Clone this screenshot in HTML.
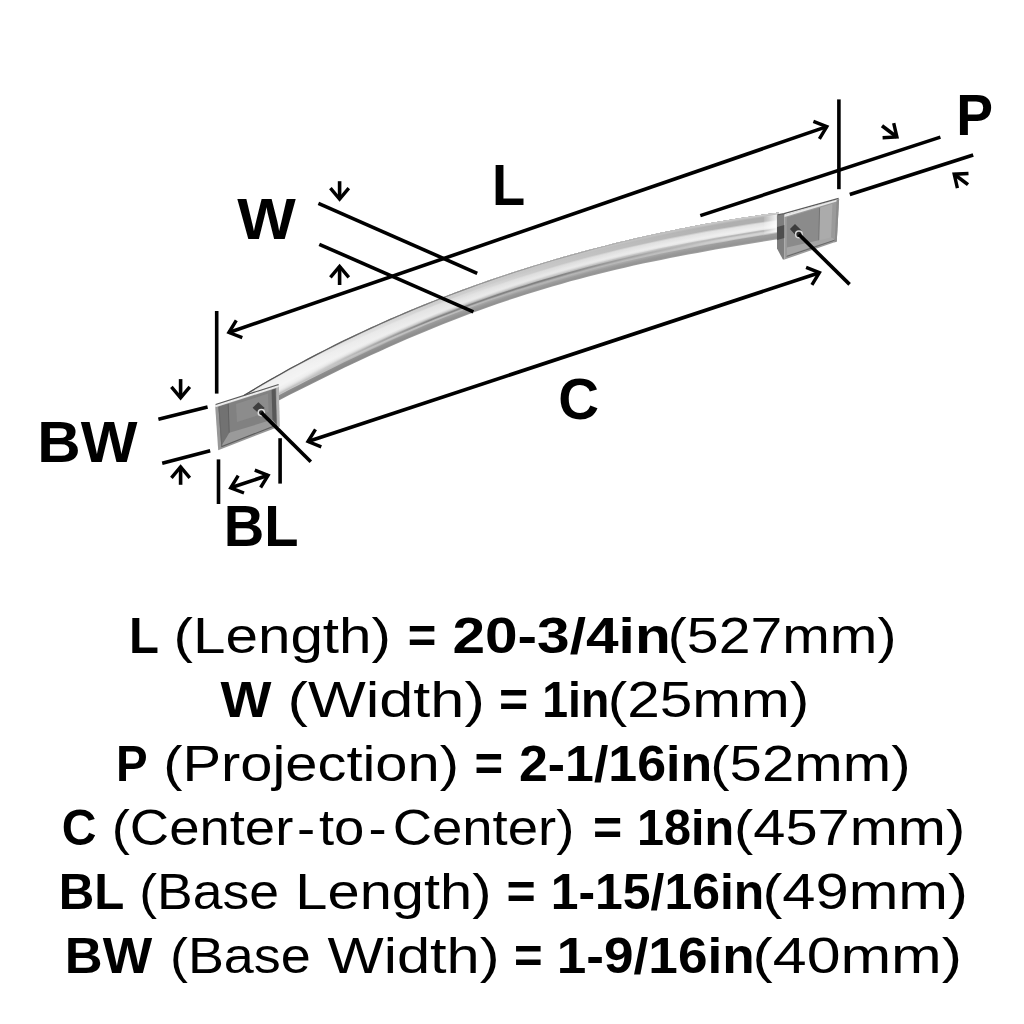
<!DOCTYPE html>
<html><head><meta charset="utf-8"><title>Handle dimensions</title>
<style>html,body{margin:0;padding:0;background:#fff}svg{display:block}text{font-family:"Liberation Sans",sans-serif;fill:#000}</style>
</head><body>
<svg width="1024" height="1024" viewBox="0 0 1024 1024">
<defs>
<linearGradient id="topline" gradientUnits="userSpaceOnUse" x1="244" y1="0" x2="560" y2="0"><stop offset="0" stop-color="#4a4a4a"/><stop offset="0.5" stop-color="#6a6a6a" stop-opacity="0.9"/><stop offset="1" stop-color="#999" stop-opacity="0"/></linearGradient>
<linearGradient id="glare" gradientUnits="userSpaceOnUse" x1="762" y1="0" x2="777" y2="0"><stop offset="0" stop-color="#fff" stop-opacity="0"/><stop offset="1" stop-color="#fff" stop-opacity="0.85"/></linearGradient>
<linearGradient id="g29" gradientUnits="userSpaceOnUse" x1="244" y1="0" x2="779" y2="0"><stop offset="0.105" stop-color="rgb(143,143,143)"/><stop offset="0.348" stop-color="rgb(153,153,153)"/><stop offset="0.572" stop-color="rgb(154,154,154)"/><stop offset="0.908" stop-color="rgb(160,160,160)"/></linearGradient>
<linearGradient id="g28" gradientUnits="userSpaceOnUse" x1="244" y1="0" x2="779" y2="0"><stop offset="0.105" stop-color="rgb(133,133,133)"/><stop offset="0.348" stop-color="rgb(142,142,142)"/><stop offset="0.572" stop-color="rgb(147,147,147)"/><stop offset="0.908" stop-color="rgb(149,149,149)"/></linearGradient>
<linearGradient id="g27" gradientUnits="userSpaceOnUse" x1="244" y1="0" x2="779" y2="0"><stop offset="0.105" stop-color="rgb(134,134,134)"/><stop offset="0.348" stop-color="rgb(145,145,145)"/><stop offset="0.572" stop-color="rgb(150,150,150)"/><stop offset="0.908" stop-color="rgb(150,150,150)"/></linearGradient>
<linearGradient id="g26" gradientUnits="userSpaceOnUse" x1="244" y1="0" x2="779" y2="0"><stop offset="0.105" stop-color="rgb(136,136,136)"/><stop offset="0.348" stop-color="rgb(147,147,147)"/><stop offset="0.572" stop-color="rgb(154,154,154)"/><stop offset="0.908" stop-color="rgb(152,152,152)"/></linearGradient>
<linearGradient id="g25" gradientUnits="userSpaceOnUse" x1="244" y1="0" x2="779" y2="0"><stop offset="0.105" stop-color="rgb(138,138,138)"/><stop offset="0.348" stop-color="rgb(150,150,150)"/><stop offset="0.572" stop-color="rgb(157,157,157)"/><stop offset="0.908" stop-color="rgb(154,154,154)"/></linearGradient>
<linearGradient id="g24" gradientUnits="userSpaceOnUse" x1="244" y1="0" x2="779" y2="0"><stop offset="0.105" stop-color="rgb(140,140,140)"/><stop offset="0.348" stop-color="rgb(153,153,153)"/><stop offset="0.572" stop-color="rgb(170,170,170)"/><stop offset="0.908" stop-color="rgb(156,156,156)"/></linearGradient>
<linearGradient id="g23" gradientUnits="userSpaceOnUse" x1="244" y1="0" x2="779" y2="0"><stop offset="0.105" stop-color="rgb(200,200,200)"/><stop offset="0.348" stop-color="rgb(156,156,156)"/><stop offset="0.572" stop-color="rgb(179,179,179)"/><stop offset="0.908" stop-color="rgb(158,158,158)"/></linearGradient>
<linearGradient id="g22" gradientUnits="userSpaceOnUse" x1="244" y1="0" x2="779" y2="0"><stop offset="0.105" stop-color="rgb(192,192,192)"/><stop offset="0.348" stop-color="rgb(190,190,190)"/><stop offset="0.572" stop-color="rgb(181,181,181)"/><stop offset="0.908" stop-color="rgb(197,197,197)"/></linearGradient>
<linearGradient id="g21" gradientUnits="userSpaceOnUse" x1="244" y1="0" x2="779" y2="0"><stop offset="0.105" stop-color="rgb(200,200,200)"/><stop offset="0.348" stop-color="rgb(191,191,191)"/><stop offset="0.572" stop-color="rgb(158,158,158)"/><stop offset="0.908" stop-color="rgb(211,211,211)"/></linearGradient>
<linearGradient id="g20" gradientUnits="userSpaceOnUse" x1="244" y1="0" x2="779" y2="0"><stop offset="0.105" stop-color="rgb(216,216,216)"/><stop offset="0.348" stop-color="rgb(140,140,140)"/><stop offset="0.572" stop-color="rgb(128,128,128)"/><stop offset="0.908" stop-color="rgb(213,213,213)"/></linearGradient>
<linearGradient id="g19" gradientUnits="userSpaceOnUse" x1="244" y1="0" x2="779" y2="0"><stop offset="0.105" stop-color="rgb(225,225,225)"/><stop offset="0.348" stop-color="rgb(130,130,130)"/><stop offset="0.572" stop-color="rgb(128,128,128)"/><stop offset="0.908" stop-color="rgb(203,203,203)"/></linearGradient>
<linearGradient id="g18" gradientUnits="userSpaceOnUse" x1="244" y1="0" x2="779" y2="0"><stop offset="0.105" stop-color="rgb(232,232,232)"/><stop offset="0.348" stop-color="rgb(167,167,167)"/><stop offset="0.572" stop-color="rgb(191,191,191)"/><stop offset="0.908" stop-color="rgb(180,180,180)"/></linearGradient>
<linearGradient id="g17" gradientUnits="userSpaceOnUse" x1="244" y1="0" x2="779" y2="0"><stop offset="0.105" stop-color="rgb(237,237,237)"/><stop offset="0.348" stop-color="rgb(198,198,198)"/><stop offset="0.572" stop-color="rgb(205,205,205)"/><stop offset="0.908" stop-color="rgb(191,191,191)"/></linearGradient>
<linearGradient id="g16" gradientUnits="userSpaceOnUse" x1="244" y1="0" x2="779" y2="0"><stop offset="0.105" stop-color="rgb(239,239,239)"/><stop offset="0.348" stop-color="rgb(215,215,215)"/><stop offset="0.572" stop-color="rgb(217,217,217)"/><stop offset="0.908" stop-color="rgb(230,230,230)"/></linearGradient>
<linearGradient id="g15" gradientUnits="userSpaceOnUse" x1="244" y1="0" x2="779" y2="0"><stop offset="0.105" stop-color="rgb(240,240,240)"/><stop offset="0.348" stop-color="rgb(229,229,229)"/><stop offset="0.572" stop-color="rgb(228,228,228)"/><stop offset="0.908" stop-color="rgb(237,237,237)"/></linearGradient>
<linearGradient id="g14" gradientUnits="userSpaceOnUse" x1="244" y1="0" x2="779" y2="0"><stop offset="0.105" stop-color="rgb(242,242,242)"/><stop offset="0.348" stop-color="rgb(235,235,235)"/><stop offset="0.572" stop-color="rgb(232,232,232)"/><stop offset="0.908" stop-color="rgb(239,239,239)"/></linearGradient>
<linearGradient id="g13" gradientUnits="userSpaceOnUse" x1="244" y1="0" x2="779" y2="0"><stop offset="0.105" stop-color="rgb(244,244,244)"/><stop offset="0.348" stop-color="rgb(234,234,234)"/><stop offset="0.572" stop-color="rgb(230,230,230)"/><stop offset="0.908" stop-color="rgb(236,236,236)"/></linearGradient>
<linearGradient id="g12" gradientUnits="userSpaceOnUse" x1="244" y1="0" x2="779" y2="0"><stop offset="0.105" stop-color="rgb(244,244,244)"/><stop offset="0.348" stop-color="rgb(233,233,233)"/><stop offset="0.572" stop-color="rgb(228,228,228)"/><stop offset="0.908" stop-color="rgb(234,234,234)"/></linearGradient>
<linearGradient id="g11" gradientUnits="userSpaceOnUse" x1="244" y1="0" x2="779" y2="0"><stop offset="0.105" stop-color="rgb(243,243,243)"/><stop offset="0.348" stop-color="rgb(232,232,232)"/><stop offset="0.572" stop-color="rgb(225,225,225)"/><stop offset="0.908" stop-color="rgb(231,231,231)"/></linearGradient>
<linearGradient id="g10" gradientUnits="userSpaceOnUse" x1="244" y1="0" x2="779" y2="0"><stop offset="0.105" stop-color="rgb(243,243,243)"/><stop offset="0.348" stop-color="rgb(231,231,231)"/><stop offset="0.572" stop-color="rgb(223,223,223)"/><stop offset="0.908" stop-color="rgb(229,229,229)"/></linearGradient>
<linearGradient id="g9" gradientUnits="userSpaceOnUse" x1="244" y1="0" x2="779" y2="0"><stop offset="0.105" stop-color="rgb(243,243,243)"/><stop offset="0.348" stop-color="rgb(230,230,230)"/><stop offset="0.572" stop-color="rgb(221,221,221)"/><stop offset="0.908" stop-color="rgb(226,226,226)"/></linearGradient>
<linearGradient id="g8" gradientUnits="userSpaceOnUse" x1="244" y1="0" x2="779" y2="0"><stop offset="0.105" stop-color="rgb(242,242,242)"/><stop offset="0.348" stop-color="rgb(229,229,229)"/><stop offset="0.572" stop-color="rgb(213,213,213)"/><stop offset="0.908" stop-color="rgb(205,205,205)"/></linearGradient>
<linearGradient id="g7" gradientUnits="userSpaceOnUse" x1="244" y1="0" x2="779" y2="0"><stop offset="0.105" stop-color="rgb(242,242,242)"/><stop offset="0.348" stop-color="rgb(228,228,228)"/><stop offset="0.572" stop-color="rgb(200,200,200)"/><stop offset="0.908" stop-color="rgb(176,176,176)"/></linearGradient>
<linearGradient id="g6" gradientUnits="userSpaceOnUse" x1="244" y1="0" x2="779" y2="0"><stop offset="0.105" stop-color="rgb(242,242,242)"/><stop offset="0.348" stop-color="rgb(227,227,227)"/><stop offset="0.572" stop-color="rgb(199,199,199)"/><stop offset="0.908" stop-color="rgb(175,175,175)"/></linearGradient>
<linearGradient id="g5" gradientUnits="userSpaceOnUse" x1="244" y1="0" x2="779" y2="0"><stop offset="0.105" stop-color="rgb(241,241,241)"/><stop offset="0.348" stop-color="rgb(221,221,221)"/><stop offset="0.572" stop-color="rgb(199,199,199)"/><stop offset="0.908" stop-color="rgb(175,175,175)"/></linearGradient>
<linearGradient id="g4" gradientUnits="userSpaceOnUse" x1="244" y1="0" x2="779" y2="0"><stop offset="0.105" stop-color="rgb(241,241,241)"/><stop offset="0.348" stop-color="rgb(210,210,210)"/><stop offset="0.572" stop-color="rgb(198,198,198)"/><stop offset="0.908" stop-color="rgb(175,175,175)"/></linearGradient>
<linearGradient id="g3" gradientUnits="userSpaceOnUse" x1="244" y1="0" x2="779" y2="0"><stop offset="0.105" stop-color="rgb(241,241,241)"/><stop offset="0.348" stop-color="rgb(208,208,208)"/><stop offset="0.572" stop-color="rgb(197,197,197)"/><stop offset="0.908" stop-color="rgb(174,174,174)"/></linearGradient>
<linearGradient id="g2" gradientUnits="userSpaceOnUse" x1="244" y1="0" x2="779" y2="0"><stop offset="0.105" stop-color="rgb(240,240,240)"/><stop offset="0.348" stop-color="rgb(207,207,207)"/><stop offset="0.572" stop-color="rgb(197,197,197)"/><stop offset="0.908" stop-color="rgb(181,181,181)"/></linearGradient>
<linearGradient id="g1" gradientUnits="userSpaceOnUse" x1="244" y1="0" x2="779" y2="0"><stop offset="0.105" stop-color="rgb(218,218,218)"/><stop offset="0.348" stop-color="rgb(205,205,205)"/><stop offset="0.572" stop-color="rgb(196,196,196)"/><stop offset="0.908" stop-color="rgb(194,194,194)"/></linearGradient>
<linearGradient id="g0" gradientUnits="userSpaceOnUse" x1="244" y1="0" x2="779" y2="0"><stop offset="0.105" stop-color="rgb(145,145,145)"/><stop offset="0.348" stop-color="rgb(152,152,152)"/><stop offset="0.572" stop-color="rgb(154,154,154)"/><stop offset="0.908" stop-color="rgb(208,208,208)"/></linearGradient>
</defs>
<rect width="1024" height="1024" fill="#fff"/>
<g id="bar">
<polygon points="244.0,395.1 253.1,389.6 262.1,384.3 271.2,379.0 280.3,373.9 289.3,368.8 298.4,363.9 307.5,359.1 316.5,354.3 325.6,349.7 334.7,345.1 343.7,340.6 352.8,336.3 361.9,332.0 370.9,327.8 380.0,323.7 389.1,319.6 398.2,315.7 407.2,311.8 416.3,308.0 425.4,304.3 434.4,300.7 443.5,297.2 452.6,293.7 461.6,290.3 470.7,287.0 479.8,283.7 488.8,280.6 497.9,277.5 507.0,274.4 516.0,271.4 525.1,268.6 534.2,265.7 543.2,263.0 552.3,260.3 561.4,257.6 570.4,255.0 579.5,252.5 588.6,250.1 597.6,247.7 606.7,245.4 615.8,243.1 624.8,240.9 633.9,238.8 643.0,236.7 652.1,234.7 661.1,232.8 670.2,230.9 679.3,229.0 688.3,227.2 697.4,225.5 706.5,223.8 715.5,222.2 724.6,220.7 733.7,219.2 742.7,217.7 751.8,216.4 760.9,215.0 769.9,213.8 779.0,212.6 779.0,238.9 769.9,240.4 760.9,241.9 751.8,243.4 742.7,244.9 733.7,246.5 724.6,248.0 715.5,249.6 706.5,251.2 697.4,252.9 688.3,254.6 679.3,256.3 670.2,258.0 661.1,259.9 652.1,261.7 643.0,263.6 633.9,265.6 624.8,267.7 615.8,269.8 606.7,271.9 597.6,274.2 588.6,276.5 579.5,278.9 570.4,281.3 561.4,283.9 552.3,286.5 543.2,289.2 534.2,291.9 525.1,294.8 516.0,297.7 507.0,300.7 497.9,303.8 488.8,307.0 479.8,310.2 470.7,313.6 461.6,317.0 452.6,320.5 443.5,324.1 434.4,327.7 425.4,331.4 416.3,335.2 407.2,339.1 398.2,343.1 389.1,347.1 380.0,351.2 370.9,355.3 361.9,359.5 352.8,363.8 343.7,368.1 334.7,372.5 325.6,376.9 316.5,381.4 307.5,385.9 298.4,390.5 289.3,395.1 280.3,399.7 271.2,404.3 262.1,409.0 253.1,413.7 244.0,418.4" fill="url(#g29)"/>
<polygon points="244.0,395.1 253.1,389.6 262.1,384.3 271.2,379.0 280.3,373.9 289.3,368.8 298.4,363.9 307.5,359.1 316.5,354.3 325.6,349.7 334.7,345.1 343.7,340.6 352.8,336.3 361.9,332.0 370.9,327.8 380.0,323.7 389.1,319.6 398.2,315.7 407.2,311.8 416.3,308.0 425.4,304.3 434.4,300.7 443.5,297.2 452.6,293.7 461.6,290.3 470.7,287.0 479.8,283.7 488.8,280.6 497.9,277.5 507.0,274.4 516.0,271.4 525.1,268.6 534.2,265.7 543.2,263.0 552.3,260.3 561.4,257.6 570.4,255.0 579.5,252.5 588.6,250.1 597.6,247.7 606.7,245.4 615.8,243.1 624.8,240.9 633.9,238.8 643.0,236.7 652.1,234.7 661.1,232.8 670.2,230.9 679.3,229.0 688.3,227.2 697.4,225.5 706.5,223.8 715.5,222.2 724.6,220.7 733.7,219.2 742.7,217.7 751.8,216.4 760.9,215.0 769.9,213.8 779.0,212.6 779.0,238.0 769.9,239.5 760.9,241.0 751.8,242.5 742.7,244.0 733.7,245.6 724.6,247.1 715.5,248.7 706.5,250.3 697.4,252.0 688.3,253.6 679.3,255.4 670.2,257.1 661.1,258.9 652.1,260.8 643.0,262.7 633.9,264.7 624.8,266.8 615.8,268.9 606.7,271.1 597.6,273.3 588.6,275.6 579.5,278.0 570.4,280.5 561.4,283.0 552.3,285.6 543.2,288.3 534.2,291.1 525.1,293.9 516.0,296.8 507.0,299.8 497.9,302.9 488.8,306.1 479.8,309.4 470.7,312.7 461.6,316.1 452.6,319.6 443.5,323.2 434.4,326.8 425.4,330.5 416.3,334.3 407.2,338.2 398.2,342.1 389.1,346.2 380.0,350.2 370.9,354.4 361.9,358.6 352.8,362.9 343.7,367.2 334.7,371.6 325.6,376.0 316.5,380.5 307.5,385.0 298.4,389.6 289.3,394.2 280.3,398.8 271.2,403.5 262.1,408.2 253.1,412.9 244.0,417.6" fill="url(#g28)"/>
<polygon points="244.0,395.1 253.1,389.6 262.1,384.3 271.2,379.0 280.3,373.9 289.3,368.8 298.4,363.9 307.5,359.1 316.5,354.3 325.6,349.7 334.7,345.1 343.7,340.6 352.8,336.3 361.9,332.0 370.9,327.8 380.0,323.7 389.1,319.6 398.2,315.7 407.2,311.8 416.3,308.0 425.4,304.3 434.4,300.7 443.5,297.2 452.6,293.7 461.6,290.3 470.7,287.0 479.8,283.7 488.8,280.6 497.9,277.5 507.0,274.4 516.0,271.4 525.1,268.6 534.2,265.7 543.2,263.0 552.3,260.3 561.4,257.6 570.4,255.0 579.5,252.5 588.6,250.1 597.6,247.7 606.7,245.4 615.8,243.1 624.8,240.9 633.9,238.8 643.0,236.7 652.1,234.7 661.1,232.8 670.2,230.9 679.3,229.0 688.3,227.2 697.4,225.5 706.5,223.8 715.5,222.2 724.6,220.7 733.7,219.2 742.7,217.7 751.8,216.4 760.9,215.0 769.9,213.8 779.0,212.6 779.0,237.1 769.9,238.6 760.9,240.1 751.8,241.6 742.7,243.1 733.7,244.7 724.6,246.2 715.5,247.8 706.5,249.4 697.4,251.0 688.3,252.7 679.3,254.5 670.2,256.2 661.1,258.0 652.1,259.9 643.0,261.8 633.9,263.8 624.8,265.9 615.8,268.0 606.7,270.2 597.6,272.4 588.6,274.7 579.5,277.1 570.4,279.6 561.4,282.1 552.3,284.7 543.2,287.4 534.2,290.2 525.1,293.0 516.0,296.0 507.0,299.0 497.9,302.1 488.8,305.2 479.8,308.5 470.7,311.8 461.6,315.2 452.6,318.7 443.5,322.3 434.4,325.9 425.4,329.6 416.3,333.4 407.2,337.3 398.2,341.2 389.1,345.2 380.0,349.3 370.9,353.5 361.9,357.7 352.8,361.9 343.7,366.3 334.7,370.7 325.6,375.1 316.5,379.6 307.5,384.1 298.4,388.7 289.3,393.3 280.3,398.0 271.2,402.6 262.1,407.3 253.1,412.1 244.0,416.8" fill="url(#g27)"/>
<polygon points="244.0,395.1 253.1,389.6 262.1,384.3 271.2,379.0 280.3,373.9 289.3,368.8 298.4,363.9 307.5,359.1 316.5,354.3 325.6,349.7 334.7,345.1 343.7,340.6 352.8,336.3 361.9,332.0 370.9,327.8 380.0,323.7 389.1,319.6 398.2,315.7 407.2,311.8 416.3,308.0 425.4,304.3 434.4,300.7 443.5,297.2 452.6,293.7 461.6,290.3 470.7,287.0 479.8,283.7 488.8,280.6 497.9,277.5 507.0,274.4 516.0,271.4 525.1,268.6 534.2,265.7 543.2,263.0 552.3,260.3 561.4,257.6 570.4,255.0 579.5,252.5 588.6,250.1 597.6,247.7 606.7,245.4 615.8,243.1 624.8,240.9 633.9,238.8 643.0,236.7 652.1,234.7 661.1,232.8 670.2,230.9 679.3,229.0 688.3,227.2 697.4,225.5 706.5,223.8 715.5,222.2 724.6,220.7 733.7,219.2 742.7,217.7 751.8,216.4 760.9,215.0 769.9,213.8 779.0,212.6 779.0,236.3 769.9,237.7 760.9,239.2 751.8,240.7 742.7,242.2 733.7,243.8 724.6,245.3 715.5,246.9 706.5,248.5 697.4,250.1 688.3,251.8 679.3,253.5 670.2,255.3 661.1,257.1 652.1,259.0 643.0,260.9 633.9,262.9 624.8,265.0 615.8,267.1 606.7,269.3 597.6,271.5 588.6,273.8 579.5,276.2 570.4,278.7 561.4,281.2 552.3,283.9 543.2,286.5 534.2,289.3 525.1,292.2 516.0,295.1 507.0,298.1 497.9,301.2 488.8,304.3 479.8,307.6 470.7,310.9 461.6,314.3 452.6,317.8 443.5,321.4 434.4,325.0 425.4,328.7 416.3,332.5 407.2,336.4 398.2,340.3 389.1,344.3 380.0,348.4 370.9,352.6 361.9,356.8 352.8,361.0 343.7,365.4 334.7,369.7 325.6,374.2 316.5,378.7 307.5,383.2 298.4,387.8 289.3,392.4 280.3,397.1 271.2,401.8 262.1,406.5 253.1,411.3 244.0,416.0" fill="url(#g26)"/>
<polygon points="244.0,395.1 253.1,389.6 262.1,384.3 271.2,379.0 280.3,373.9 289.3,368.8 298.4,363.9 307.5,359.1 316.5,354.3 325.6,349.7 334.7,345.1 343.7,340.6 352.8,336.3 361.9,332.0 370.9,327.8 380.0,323.7 389.1,319.6 398.2,315.7 407.2,311.8 416.3,308.0 425.4,304.3 434.4,300.7 443.5,297.2 452.6,293.7 461.6,290.3 470.7,287.0 479.8,283.7 488.8,280.6 497.9,277.5 507.0,274.4 516.0,271.4 525.1,268.6 534.2,265.7 543.2,263.0 552.3,260.3 561.4,257.6 570.4,255.0 579.5,252.5 588.6,250.1 597.6,247.7 606.7,245.4 615.8,243.1 624.8,240.9 633.9,238.8 643.0,236.7 652.1,234.7 661.1,232.8 670.2,230.9 679.3,229.0 688.3,227.2 697.4,225.5 706.5,223.8 715.5,222.2 724.6,220.7 733.7,219.2 742.7,217.7 751.8,216.4 760.9,215.0 769.9,213.8 779.0,212.6 779.0,235.4 769.9,236.9 760.9,238.3 751.8,239.8 742.7,241.3 733.7,242.8 724.6,244.4 715.5,246.0 706.5,247.6 697.4,249.2 688.3,250.9 679.3,252.6 670.2,254.4 661.1,256.2 652.1,258.1 643.0,260.1 633.9,262.0 624.8,264.1 615.8,266.2 606.7,268.4 597.6,270.6 588.6,273.0 579.5,275.4 570.4,277.8 561.4,280.4 552.3,283.0 543.2,285.7 534.2,288.4 525.1,291.3 516.0,294.2 507.0,297.2 497.9,300.3 488.8,303.5 479.8,306.7 470.7,310.0 461.6,313.4 452.6,316.9 443.5,320.5 434.4,324.1 425.4,327.8 416.3,331.6 407.2,335.5 398.2,339.4 389.1,343.4 380.0,347.5 370.9,351.6 361.9,355.8 352.8,360.1 343.7,364.4 334.7,368.8 325.6,373.3 316.5,377.8 307.5,382.3 298.4,386.9 289.3,391.6 280.3,396.2 271.2,401.0 262.1,405.7 253.1,410.5 244.0,415.3" fill="url(#g25)"/>
<polygon points="244.0,395.1 253.1,389.6 262.1,384.3 271.2,379.0 280.3,373.9 289.3,368.8 298.4,363.9 307.5,359.1 316.5,354.3 325.6,349.7 334.7,345.1 343.7,340.6 352.8,336.3 361.9,332.0 370.9,327.8 380.0,323.7 389.1,319.6 398.2,315.7 407.2,311.8 416.3,308.0 425.4,304.3 434.4,300.7 443.5,297.2 452.6,293.7 461.6,290.3 470.7,287.0 479.8,283.7 488.8,280.6 497.9,277.5 507.0,274.4 516.0,271.4 525.1,268.6 534.2,265.7 543.2,263.0 552.3,260.3 561.4,257.6 570.4,255.0 579.5,252.5 588.6,250.1 597.6,247.7 606.7,245.4 615.8,243.1 624.8,240.9 633.9,238.8 643.0,236.7 652.1,234.7 661.1,232.8 670.2,230.9 679.3,229.0 688.3,227.2 697.4,225.5 706.5,223.8 715.5,222.2 724.6,220.7 733.7,219.2 742.7,217.7 751.8,216.4 760.9,215.0 769.9,213.8 779.0,212.6 779.0,234.5 769.9,236.0 760.9,237.4 751.8,238.9 742.7,240.4 733.7,241.9 724.6,243.5 715.5,245.1 706.5,246.7 697.4,248.3 688.3,250.0 679.3,251.7 670.2,253.5 661.1,255.3 652.1,257.2 643.0,259.2 633.9,261.2 624.8,263.2 615.8,265.3 606.7,267.5 597.6,269.8 588.6,272.1 579.5,274.5 570.4,276.9 561.4,279.5 552.3,282.1 543.2,284.8 534.2,287.6 525.1,290.4 516.0,293.3 507.0,296.3 497.9,299.4 488.8,302.6 479.8,305.8 470.7,309.1 461.6,312.5 452.6,316.0 443.5,319.6 434.4,323.2 425.4,326.9 416.3,330.7 407.2,334.6 398.2,338.5 389.1,342.5 380.0,346.6 370.9,350.7 361.9,354.9 352.8,359.2 343.7,363.5 334.7,367.9 325.6,372.4 316.5,376.9 307.5,381.4 298.4,386.0 289.3,390.7 280.3,395.4 271.2,400.1 262.1,404.9 253.1,409.7 244.0,414.5" fill="url(#g24)"/>
<polygon points="244.0,395.1 253.1,389.6 262.1,384.3 271.2,379.0 280.3,373.9 289.3,368.8 298.4,363.9 307.5,359.1 316.5,354.3 325.6,349.7 334.7,345.1 343.7,340.6 352.8,336.3 361.9,332.0 370.9,327.8 380.0,323.7 389.1,319.6 398.2,315.7 407.2,311.8 416.3,308.0 425.4,304.3 434.4,300.7 443.5,297.2 452.6,293.7 461.6,290.3 470.7,287.0 479.8,283.7 488.8,280.6 497.9,277.5 507.0,274.4 516.0,271.4 525.1,268.6 534.2,265.7 543.2,263.0 552.3,260.3 561.4,257.6 570.4,255.0 579.5,252.5 588.6,250.1 597.6,247.7 606.7,245.4 615.8,243.1 624.8,240.9 633.9,238.8 643.0,236.7 652.1,234.7 661.1,232.8 670.2,230.9 679.3,229.0 688.3,227.2 697.4,225.5 706.5,223.8 715.5,222.2 724.6,220.7 733.7,219.2 742.7,217.7 751.8,216.4 760.9,215.0 769.9,213.8 779.0,212.6 779.0,233.6 769.9,235.1 760.9,236.5 751.8,238.0 742.7,239.5 733.7,241.0 724.6,242.6 715.5,244.1 706.5,245.8 697.4,247.4 688.3,249.1 679.3,250.8 670.2,252.6 661.1,254.4 652.1,256.3 643.0,258.3 633.9,260.3 624.8,262.3 615.8,264.4 606.7,266.6 597.6,268.9 588.6,271.2 579.5,273.6 570.4,276.1 561.4,278.6 552.3,281.2 543.2,283.9 534.2,286.7 525.1,289.5 516.0,292.5 507.0,295.5 497.9,298.5 488.8,301.7 479.8,304.9 470.7,308.3 461.6,311.6 452.6,315.1 443.5,318.7 434.4,322.3 425.4,326.0 416.3,329.8 407.2,333.7 398.2,337.6 389.1,341.6 380.0,345.7 370.9,349.8 361.9,354.0 352.8,358.3 343.7,362.6 334.7,367.0 325.6,371.5 316.5,376.0 307.5,380.5 298.4,385.2 289.3,389.8 280.3,394.5 271.2,399.3 262.1,404.0 253.1,408.9 244.0,413.7" fill="url(#g23)"/>
<polygon points="244.0,395.1 253.1,389.6 262.1,384.3 271.2,379.0 280.3,373.9 289.3,368.8 298.4,363.9 307.5,359.1 316.5,354.3 325.6,349.7 334.7,345.1 343.7,340.6 352.8,336.3 361.9,332.0 370.9,327.8 380.0,323.7 389.1,319.6 398.2,315.7 407.2,311.8 416.3,308.0 425.4,304.3 434.4,300.7 443.5,297.2 452.6,293.7 461.6,290.3 470.7,287.0 479.8,283.7 488.8,280.6 497.9,277.5 507.0,274.4 516.0,271.4 525.1,268.6 534.2,265.7 543.2,263.0 552.3,260.3 561.4,257.6 570.4,255.0 579.5,252.5 588.6,250.1 597.6,247.7 606.7,245.4 615.8,243.1 624.8,240.9 633.9,238.8 643.0,236.7 652.1,234.7 661.1,232.8 670.2,230.9 679.3,229.0 688.3,227.2 697.4,225.5 706.5,223.8 715.5,222.2 724.6,220.7 733.7,219.2 742.7,217.7 751.8,216.4 760.9,215.0 769.9,213.8 779.0,212.6 779.0,232.8 769.9,234.2 760.9,235.6 751.8,237.1 742.7,238.6 733.7,240.1 724.6,241.7 715.5,243.2 706.5,244.8 697.4,246.5 688.3,248.2 679.3,249.9 670.2,251.7 661.1,253.5 652.1,255.4 643.0,257.4 633.9,259.4 624.8,261.4 615.8,263.6 606.7,265.7 597.6,268.0 588.6,270.3 579.5,272.7 570.4,275.2 561.4,277.7 552.3,280.4 543.2,283.0 534.2,285.8 525.1,288.7 516.0,291.6 507.0,294.6 497.9,297.7 488.8,300.8 479.8,304.1 470.7,307.4 461.6,310.8 452.6,314.2 443.5,317.8 434.4,321.4 425.4,325.1 416.3,328.9 407.2,332.7 398.2,336.7 389.1,340.7 380.0,344.7 370.9,348.9 361.9,353.1 352.8,357.4 343.7,361.7 334.7,366.1 325.6,370.6 316.5,375.1 307.5,379.6 298.4,384.3 289.3,388.9 280.3,393.7 271.2,398.4 262.1,403.2 253.1,408.1 244.0,412.9" fill="url(#g22)"/>
<polygon points="244.0,395.1 253.1,389.6 262.1,384.3 271.2,379.0 280.3,373.9 289.3,368.8 298.4,363.9 307.5,359.1 316.5,354.3 325.6,349.7 334.7,345.1 343.7,340.6 352.8,336.3 361.9,332.0 370.9,327.8 380.0,323.7 389.1,319.6 398.2,315.7 407.2,311.8 416.3,308.0 425.4,304.3 434.4,300.7 443.5,297.2 452.6,293.7 461.6,290.3 470.7,287.0 479.8,283.7 488.8,280.6 497.9,277.5 507.0,274.4 516.0,271.4 525.1,268.6 534.2,265.7 543.2,263.0 552.3,260.3 561.4,257.6 570.4,255.0 579.5,252.5 588.6,250.1 597.6,247.7 606.7,245.4 615.8,243.1 624.8,240.9 633.9,238.8 643.0,236.7 652.1,234.7 661.1,232.8 670.2,230.9 679.3,229.0 688.3,227.2 697.4,225.5 706.5,223.8 715.5,222.2 724.6,220.7 733.7,219.2 742.7,217.7 751.8,216.4 760.9,215.0 769.9,213.8 779.0,212.6 779.0,231.9 769.9,233.3 760.9,234.7 751.8,236.2 742.7,237.7 733.7,239.2 724.6,240.7 715.5,242.3 706.5,243.9 697.4,245.6 688.3,247.3 679.3,249.0 670.2,250.8 661.1,252.6 652.1,254.5 643.0,256.5 633.9,258.5 624.8,260.5 615.8,262.7 606.7,264.9 597.6,267.1 588.6,269.5 579.5,271.9 570.4,274.3 561.4,276.9 552.3,279.5 543.2,282.2 534.2,284.9 525.1,287.8 516.0,290.7 507.0,293.7 497.9,296.8 488.8,299.9 479.8,303.2 470.7,306.5 461.6,309.9 452.6,313.3 443.5,316.9 434.4,320.5 425.4,324.2 416.3,328.0 407.2,331.8 398.2,335.8 389.1,339.8 380.0,343.8 370.9,348.0 361.9,352.2 352.8,356.4 343.7,360.8 334.7,365.2 325.6,369.6 316.5,374.2 307.5,378.7 298.4,383.4 289.3,388.1 280.3,392.8 271.2,397.6 262.1,402.4 253.1,407.3 244.0,412.2" fill="url(#g21)"/>
<polygon points="244.0,395.1 253.1,389.6 262.1,384.3 271.2,379.0 280.3,373.9 289.3,368.8 298.4,363.9 307.5,359.1 316.5,354.3 325.6,349.7 334.7,345.1 343.7,340.6 352.8,336.3 361.9,332.0 370.9,327.8 380.0,323.7 389.1,319.6 398.2,315.7 407.2,311.8 416.3,308.0 425.4,304.3 434.4,300.7 443.5,297.2 452.6,293.7 461.6,290.3 470.7,287.0 479.8,283.7 488.8,280.6 497.9,277.5 507.0,274.4 516.0,271.4 525.1,268.6 534.2,265.7 543.2,263.0 552.3,260.3 561.4,257.6 570.4,255.0 579.5,252.5 588.6,250.1 597.6,247.7 606.7,245.4 615.8,243.1 624.8,240.9 633.9,238.8 643.0,236.7 652.1,234.7 661.1,232.8 670.2,230.9 679.3,229.0 688.3,227.2 697.4,225.5 706.5,223.8 715.5,222.2 724.6,220.7 733.7,219.2 742.7,217.7 751.8,216.4 760.9,215.0 769.9,213.8 779.0,212.6 779.0,231.0 769.9,232.4 760.9,233.8 751.8,235.3 742.7,236.8 733.7,238.3 724.6,239.8 715.5,241.4 706.5,243.0 697.4,244.7 688.3,246.4 679.3,248.1 670.2,249.9 661.1,251.7 652.1,253.6 643.0,255.6 633.9,257.6 624.8,259.6 615.8,261.8 606.7,264.0 597.6,266.2 588.6,268.6 579.5,271.0 570.4,273.4 561.4,276.0 552.3,278.6 543.2,281.3 534.2,284.1 525.1,286.9 516.0,289.8 507.0,292.8 497.9,295.9 488.8,299.1 479.8,302.3 470.7,305.6 461.6,309.0 452.6,312.4 443.5,316.0 434.4,319.6 425.4,323.3 416.3,327.1 407.2,330.9 398.2,334.8 389.1,338.8 380.0,342.9 370.9,347.0 361.9,351.3 352.8,355.5 343.7,359.9 334.7,364.3 325.6,368.7 316.5,373.3 307.5,377.9 298.4,382.5 289.3,387.2 280.3,391.9 271.2,396.7 262.1,401.6 253.1,406.5 244.0,411.4" fill="url(#g20)"/>
<polygon points="244.0,395.1 253.1,389.6 262.1,384.3 271.2,379.0 280.3,373.9 289.3,368.8 298.4,363.9 307.5,359.1 316.5,354.3 325.6,349.7 334.7,345.1 343.7,340.6 352.8,336.3 361.9,332.0 370.9,327.8 380.0,323.7 389.1,319.6 398.2,315.7 407.2,311.8 416.3,308.0 425.4,304.3 434.4,300.7 443.5,297.2 452.6,293.7 461.6,290.3 470.7,287.0 479.8,283.7 488.8,280.6 497.9,277.5 507.0,274.4 516.0,271.4 525.1,268.6 534.2,265.7 543.2,263.0 552.3,260.3 561.4,257.6 570.4,255.0 579.5,252.5 588.6,250.1 597.6,247.7 606.7,245.4 615.8,243.1 624.8,240.9 633.9,238.8 643.0,236.7 652.1,234.7 661.1,232.8 670.2,230.9 679.3,229.0 688.3,227.2 697.4,225.5 706.5,223.8 715.5,222.2 724.6,220.7 733.7,219.2 742.7,217.7 751.8,216.4 760.9,215.0 769.9,213.8 779.0,212.6 779.0,230.1 769.9,231.5 760.9,233.0 751.8,234.4 742.7,235.9 733.7,237.4 724.6,238.9 715.5,240.5 706.5,242.1 697.4,243.7 688.3,245.4 679.3,247.2 670.2,249.0 661.1,250.8 652.1,252.7 643.0,254.7 633.9,256.7 624.8,258.8 615.8,260.9 606.7,263.1 597.6,265.4 588.6,267.7 579.5,270.1 570.4,272.6 561.4,275.1 552.3,277.7 543.2,280.4 534.2,283.2 525.1,286.0 516.0,289.0 507.0,291.9 497.9,295.0 488.8,298.2 479.8,301.4 470.7,304.7 461.6,308.1 452.6,311.6 443.5,315.1 434.4,318.7 425.4,322.4 416.3,326.2 407.2,330.0 398.2,333.9 389.1,337.9 380.0,342.0 370.9,346.1 361.9,350.3 352.8,354.6 343.7,359.0 334.7,363.4 325.6,367.8 316.5,372.4 307.5,377.0 298.4,381.6 289.3,386.3 280.3,391.1 271.2,395.9 262.1,400.8 253.1,405.7 244.0,410.6" fill="url(#g19)"/>
<polygon points="244.0,395.1 253.1,389.6 262.1,384.3 271.2,379.0 280.3,373.9 289.3,368.8 298.4,363.9 307.5,359.1 316.5,354.3 325.6,349.7 334.7,345.1 343.7,340.6 352.8,336.3 361.9,332.0 370.9,327.8 380.0,323.7 389.1,319.6 398.2,315.7 407.2,311.8 416.3,308.0 425.4,304.3 434.4,300.7 443.5,297.2 452.6,293.7 461.6,290.3 470.7,287.0 479.8,283.7 488.8,280.6 497.9,277.5 507.0,274.4 516.0,271.4 525.1,268.6 534.2,265.7 543.2,263.0 552.3,260.3 561.4,257.6 570.4,255.0 579.5,252.5 588.6,250.1 597.6,247.7 606.7,245.4 615.8,243.1 624.8,240.9 633.9,238.8 643.0,236.7 652.1,234.7 661.1,232.8 670.2,230.9 679.3,229.0 688.3,227.2 697.4,225.5 706.5,223.8 715.5,222.2 724.6,220.7 733.7,219.2 742.7,217.7 751.8,216.4 760.9,215.0 769.9,213.8 779.0,212.6 779.0,229.2 769.9,230.6 760.9,232.1 751.8,233.5 742.7,235.0 733.7,236.5 724.6,238.0 715.5,239.6 706.5,241.2 697.4,242.8 688.3,244.5 679.3,246.3 670.2,248.1 661.1,249.9 652.1,251.8 643.0,253.8 633.9,255.8 624.8,257.9 615.8,260.0 606.7,262.2 597.6,264.5 588.6,266.8 579.5,269.2 570.4,271.7 561.4,274.2 552.3,276.9 543.2,279.6 534.2,282.3 525.1,285.2 516.0,288.1 507.0,291.1 497.9,294.1 488.8,297.3 479.8,300.5 470.7,303.8 461.6,307.2 452.6,310.7 443.5,314.2 434.4,317.8 425.4,321.5 416.3,325.3 407.2,329.1 398.2,333.0 389.1,337.0 380.0,341.1 370.9,345.2 361.9,349.4 352.8,353.7 343.7,358.0 334.7,362.4 325.6,366.9 316.5,371.5 307.5,376.1 298.4,380.7 289.3,385.4 280.3,390.2 271.2,395.0 262.1,399.9 253.1,404.9 244.0,409.8" fill="url(#g18)"/>
<polygon points="244.0,395.1 253.1,389.6 262.1,384.3 271.2,379.0 280.3,373.9 289.3,368.8 298.4,363.9 307.5,359.1 316.5,354.3 325.6,349.7 334.7,345.1 343.7,340.6 352.8,336.3 361.9,332.0 370.9,327.8 380.0,323.7 389.1,319.6 398.2,315.7 407.2,311.8 416.3,308.0 425.4,304.3 434.4,300.7 443.5,297.2 452.6,293.7 461.6,290.3 470.7,287.0 479.8,283.7 488.8,280.6 497.9,277.5 507.0,274.4 516.0,271.4 525.1,268.6 534.2,265.7 543.2,263.0 552.3,260.3 561.4,257.6 570.4,255.0 579.5,252.5 588.6,250.1 597.6,247.7 606.7,245.4 615.8,243.1 624.8,240.9 633.9,238.8 643.0,236.7 652.1,234.7 661.1,232.8 670.2,230.9 679.3,229.0 688.3,227.2 697.4,225.5 706.5,223.8 715.5,222.2 724.6,220.7 733.7,219.2 742.7,217.7 751.8,216.4 760.9,215.0 769.9,213.8 779.0,212.6 779.0,228.4 769.9,229.7 760.9,231.2 751.8,232.6 742.7,234.1 733.7,235.6 724.6,237.1 715.5,238.7 706.5,240.3 697.4,241.9 688.3,243.6 679.3,245.4 670.2,247.2 661.1,249.0 652.1,250.9 643.0,252.9 633.9,254.9 624.8,257.0 615.8,259.1 606.7,261.3 597.6,263.6 588.6,265.9 579.5,268.3 570.4,270.8 561.4,273.4 552.3,276.0 543.2,278.7 534.2,281.4 525.1,284.3 516.0,287.2 507.0,290.2 497.9,293.3 488.8,296.4 479.8,299.6 470.7,302.9 461.6,306.3 452.6,309.8 443.5,313.3 434.4,316.9 425.4,320.6 416.3,324.4 407.2,328.2 398.2,332.1 389.1,336.1 380.0,340.2 370.9,344.3 361.9,348.5 352.8,352.8 343.7,357.1 334.7,361.5 325.6,366.0 316.5,370.6 307.5,375.2 298.4,379.8 289.3,384.6 280.3,389.4 271.2,394.2 262.1,399.1 253.1,404.1 244.0,409.1" fill="url(#g17)"/>
<polygon points="244.0,395.1 253.1,389.6 262.1,384.3 271.2,379.0 280.3,373.9 289.3,368.8 298.4,363.9 307.5,359.1 316.5,354.3 325.6,349.7 334.7,345.1 343.7,340.6 352.8,336.3 361.9,332.0 370.9,327.8 380.0,323.7 389.1,319.6 398.2,315.7 407.2,311.8 416.3,308.0 425.4,304.3 434.4,300.7 443.5,297.2 452.6,293.7 461.6,290.3 470.7,287.0 479.8,283.7 488.8,280.6 497.9,277.5 507.0,274.4 516.0,271.4 525.1,268.6 534.2,265.7 543.2,263.0 552.3,260.3 561.4,257.6 570.4,255.0 579.5,252.5 588.6,250.1 597.6,247.7 606.7,245.4 615.8,243.1 624.8,240.9 633.9,238.8 643.0,236.7 652.1,234.7 661.1,232.8 670.2,230.9 679.3,229.0 688.3,227.2 697.4,225.5 706.5,223.8 715.5,222.2 724.6,220.7 733.7,219.2 742.7,217.7 751.8,216.4 760.9,215.0 769.9,213.8 779.0,212.6 779.0,227.5 769.9,228.9 760.9,230.3 751.8,231.7 742.7,233.2 733.7,234.7 724.6,236.2 715.5,237.7 706.5,239.4 697.4,241.0 688.3,242.7 679.3,244.5 670.2,246.3 661.1,248.1 652.1,250.0 643.0,252.0 633.9,254.0 624.8,256.1 615.8,258.2 606.7,260.4 597.6,262.7 588.6,265.1 579.5,267.5 570.4,269.9 561.4,272.5 552.3,275.1 543.2,277.8 534.2,280.6 525.1,283.4 516.0,286.3 507.0,289.3 497.9,292.4 488.8,295.5 479.8,298.8 470.7,302.0 461.6,305.4 452.6,308.9 443.5,312.4 434.4,316.0 425.4,319.7 416.3,323.5 407.2,327.3 398.2,331.2 389.1,335.2 380.0,339.2 370.9,343.4 361.9,347.6 352.8,351.9 343.7,356.2 334.7,360.6 325.6,365.1 316.5,369.7 307.5,374.3 298.4,379.0 289.3,383.7 280.3,388.5 271.2,393.4 262.1,398.3 253.1,403.2 244.0,408.3" fill="url(#g16)"/>
<polygon points="244.0,395.1 253.1,389.6 262.1,384.3 271.2,379.0 280.3,373.9 289.3,368.8 298.4,363.9 307.5,359.1 316.5,354.3 325.6,349.7 334.7,345.1 343.7,340.6 352.8,336.3 361.9,332.0 370.9,327.8 380.0,323.7 389.1,319.6 398.2,315.7 407.2,311.8 416.3,308.0 425.4,304.3 434.4,300.7 443.5,297.2 452.6,293.7 461.6,290.3 470.7,287.0 479.8,283.7 488.8,280.6 497.9,277.5 507.0,274.4 516.0,271.4 525.1,268.6 534.2,265.7 543.2,263.0 552.3,260.3 561.4,257.6 570.4,255.0 579.5,252.5 588.6,250.1 597.6,247.7 606.7,245.4 615.8,243.1 624.8,240.9 633.9,238.8 643.0,236.7 652.1,234.7 661.1,232.8 670.2,230.9 679.3,229.0 688.3,227.2 697.4,225.5 706.5,223.8 715.5,222.2 724.6,220.7 733.7,219.2 742.7,217.7 751.8,216.4 760.9,215.0 769.9,213.8 779.0,212.6 779.0,226.6 769.9,228.0 760.9,229.4 751.8,230.8 742.7,232.2 733.7,233.7 724.6,235.3 715.5,236.8 706.5,238.4 697.4,240.1 688.3,241.8 679.3,243.6 670.2,245.4 661.1,247.2 652.1,249.1 643.0,251.1 633.9,253.1 624.8,255.2 615.8,257.3 606.7,259.6 597.6,261.8 588.6,264.2 579.5,266.6 570.4,269.1 561.4,271.6 552.3,274.2 543.2,276.9 534.2,279.7 525.1,282.5 516.0,285.5 507.0,288.4 497.9,291.5 488.8,294.7 479.8,297.9 470.7,301.2 461.6,304.5 452.6,308.0 443.5,311.5 434.4,315.1 425.4,318.8 416.3,322.5 407.2,326.4 398.2,330.3 389.1,334.3 380.0,338.3 370.9,342.5 361.9,346.7 352.8,350.9 343.7,355.3 334.7,359.7 325.6,364.2 316.5,368.8 307.5,373.4 298.4,378.1 289.3,382.8 280.3,387.6 271.2,392.5 262.1,397.5 253.1,402.4 244.0,407.5" fill="url(#g15)"/>
<polygon points="244.0,395.1 253.1,389.6 262.1,384.3 271.2,379.0 280.3,373.9 289.3,368.8 298.4,363.9 307.5,359.1 316.5,354.3 325.6,349.7 334.7,345.1 343.7,340.6 352.8,336.3 361.9,332.0 370.9,327.8 380.0,323.7 389.1,319.6 398.2,315.7 407.2,311.8 416.3,308.0 425.4,304.3 434.4,300.7 443.5,297.2 452.6,293.7 461.6,290.3 470.7,287.0 479.8,283.7 488.8,280.6 497.9,277.5 507.0,274.4 516.0,271.4 525.1,268.6 534.2,265.7 543.2,263.0 552.3,260.3 561.4,257.6 570.4,255.0 579.5,252.5 588.6,250.1 597.6,247.7 606.7,245.4 615.8,243.1 624.8,240.9 633.9,238.8 643.0,236.7 652.1,234.7 661.1,232.8 670.2,230.9 679.3,229.0 688.3,227.2 697.4,225.5 706.5,223.8 715.5,222.2 724.6,220.7 733.7,219.2 742.7,217.7 751.8,216.4 760.9,215.0 769.9,213.8 779.0,212.6 779.0,225.7 769.9,227.1 760.9,228.5 751.8,229.9 742.7,231.3 733.7,232.8 724.6,234.4 715.5,235.9 706.5,237.5 697.4,239.2 688.3,240.9 679.3,242.6 670.2,244.4 661.1,246.3 652.1,248.2 643.0,250.2 633.9,252.2 624.8,254.3 615.8,256.5 606.7,258.7 597.6,260.9 588.6,263.3 579.5,265.7 570.4,268.2 561.4,270.7 552.3,273.4 543.2,276.1 534.2,278.8 525.1,281.7 516.0,284.6 507.0,287.6 497.9,290.6 488.8,293.8 479.8,297.0 470.7,300.3 461.6,303.6 452.6,307.1 443.5,310.6 434.4,314.2 425.4,317.9 416.3,321.6 407.2,325.5 398.2,329.4 389.1,333.4 380.0,337.4 370.9,341.5 361.9,345.7 352.8,350.0 343.7,354.4 334.7,358.8 325.6,363.3 316.5,367.9 307.5,372.5 298.4,377.2 289.3,381.9 280.3,386.8 271.2,391.7 262.1,396.6 253.1,401.6 244.0,406.7" fill="url(#g14)"/>
<polygon points="244.0,395.1 253.1,389.6 262.1,384.3 271.2,379.0 280.3,373.9 289.3,368.8 298.4,363.9 307.5,359.1 316.5,354.3 325.6,349.7 334.7,345.1 343.7,340.6 352.8,336.3 361.9,332.0 370.9,327.8 380.0,323.7 389.1,319.6 398.2,315.7 407.2,311.8 416.3,308.0 425.4,304.3 434.4,300.7 443.5,297.2 452.6,293.7 461.6,290.3 470.7,287.0 479.8,283.7 488.8,280.6 497.9,277.5 507.0,274.4 516.0,271.4 525.1,268.6 534.2,265.7 543.2,263.0 552.3,260.3 561.4,257.6 570.4,255.0 579.5,252.5 588.6,250.1 597.6,247.7 606.7,245.4 615.8,243.1 624.8,240.9 633.9,238.8 643.0,236.7 652.1,234.7 661.1,232.8 670.2,230.9 679.3,229.0 688.3,227.2 697.4,225.5 706.5,223.8 715.5,222.2 724.6,220.7 733.7,219.2 742.7,217.7 751.8,216.4 760.9,215.0 769.9,213.8 779.0,212.6 779.0,224.8 769.9,226.2 760.9,227.6 751.8,229.0 742.7,230.4 733.7,231.9 724.6,233.4 715.5,235.0 706.5,236.6 697.4,238.3 688.3,240.0 679.3,241.7 670.2,243.5 661.1,245.4 652.1,247.3 643.0,249.3 633.9,251.3 624.8,253.4 615.8,255.6 606.7,257.8 597.6,260.1 588.6,262.4 579.5,264.8 570.4,267.3 561.4,269.9 552.3,272.5 543.2,275.2 534.2,278.0 525.1,280.8 516.0,283.7 507.0,286.7 497.9,289.8 488.8,292.9 479.8,296.1 470.7,299.4 461.6,302.8 452.6,306.2 443.5,309.7 434.4,313.3 425.4,317.0 416.3,320.7 407.2,324.6 398.2,328.5 389.1,332.4 380.0,336.5 370.9,340.6 361.9,344.8 352.8,349.1 343.7,353.5 334.7,357.9 325.6,362.4 316.5,366.9 307.5,371.6 298.4,376.3 289.3,381.1 280.3,385.9 271.2,390.8 262.1,395.8 253.1,400.8 244.0,405.9" fill="url(#g13)"/>
<polygon points="244.0,395.1 253.1,389.6 262.1,384.3 271.2,379.0 280.3,373.9 289.3,368.8 298.4,363.9 307.5,359.1 316.5,354.3 325.6,349.7 334.7,345.1 343.7,340.6 352.8,336.3 361.9,332.0 370.9,327.8 380.0,323.7 389.1,319.6 398.2,315.7 407.2,311.8 416.3,308.0 425.4,304.3 434.4,300.7 443.5,297.2 452.6,293.7 461.6,290.3 470.7,287.0 479.8,283.7 488.8,280.6 497.9,277.5 507.0,274.4 516.0,271.4 525.1,268.6 534.2,265.7 543.2,263.0 552.3,260.3 561.4,257.6 570.4,255.0 579.5,252.5 588.6,250.1 597.6,247.7 606.7,245.4 615.8,243.1 624.8,240.9 633.9,238.8 643.0,236.7 652.1,234.7 661.1,232.8 670.2,230.9 679.3,229.0 688.3,227.2 697.4,225.5 706.5,223.8 715.5,222.2 724.6,220.7 733.7,219.2 742.7,217.7 751.8,216.4 760.9,215.0 769.9,213.8 779.0,212.6 779.0,224.0 769.9,225.3 760.9,226.7 751.8,228.1 742.7,229.5 733.7,231.0 724.6,232.5 715.5,234.1 706.5,235.7 697.4,237.4 688.3,239.1 679.3,240.8 670.2,242.6 661.1,244.5 652.1,246.4 643.0,248.4 633.9,250.4 624.8,252.5 615.8,254.7 606.7,256.9 597.6,259.2 588.6,261.5 579.5,264.0 570.4,266.4 561.4,269.0 552.3,271.6 543.2,274.3 534.2,277.1 525.1,279.9 516.0,282.8 507.0,285.8 497.9,288.9 488.8,292.0 479.8,295.2 470.7,298.5 461.6,301.9 452.6,305.3 443.5,308.8 434.4,312.4 425.4,316.1 416.3,319.8 407.2,323.7 398.2,327.5 389.1,331.5 380.0,335.6 370.9,339.7 361.9,343.9 352.8,348.2 343.7,352.5 334.7,357.0 325.6,361.5 316.5,366.0 307.5,370.7 298.4,375.4 289.3,380.2 280.3,385.1 271.2,390.0 262.1,395.0 253.1,400.0 244.0,405.2" fill="url(#g12)"/>
<polygon points="244.0,395.1 253.1,389.6 262.1,384.3 271.2,379.0 280.3,373.9 289.3,368.8 298.4,363.9 307.5,359.1 316.5,354.3 325.6,349.7 334.7,345.1 343.7,340.6 352.8,336.3 361.9,332.0 370.9,327.8 380.0,323.7 389.1,319.6 398.2,315.7 407.2,311.8 416.3,308.0 425.4,304.3 434.4,300.7 443.5,297.2 452.6,293.7 461.6,290.3 470.7,287.0 479.8,283.7 488.8,280.6 497.9,277.5 507.0,274.4 516.0,271.4 525.1,268.6 534.2,265.7 543.2,263.0 552.3,260.3 561.4,257.6 570.4,255.0 579.5,252.5 588.6,250.1 597.6,247.7 606.7,245.4 615.8,243.1 624.8,240.9 633.9,238.8 643.0,236.7 652.1,234.7 661.1,232.8 670.2,230.9 679.3,229.0 688.3,227.2 697.4,225.5 706.5,223.8 715.5,222.2 724.6,220.7 733.7,219.2 742.7,217.7 751.8,216.4 760.9,215.0 769.9,213.8 779.0,212.6 779.0,223.1 769.9,224.4 760.9,225.8 751.8,227.2 742.7,228.6 733.7,230.1 724.6,231.6 715.5,233.2 706.5,234.8 697.4,236.4 688.3,238.2 679.3,239.9 670.2,241.7 661.1,243.6 652.1,245.5 643.0,247.5 633.9,249.5 624.8,251.6 615.8,253.8 606.7,256.0 597.6,258.3 588.6,260.7 579.5,263.1 570.4,265.6 561.4,268.1 552.3,270.7 543.2,273.4 534.2,276.2 525.1,279.0 516.0,282.0 507.0,284.9 497.9,288.0 488.8,291.1 479.8,294.3 470.7,297.6 461.6,301.0 452.6,304.4 443.5,307.9 434.4,311.5 425.4,315.2 416.3,318.9 407.2,322.7 398.2,326.6 389.1,330.6 380.0,334.7 370.9,338.8 361.9,343.0 352.8,347.3 343.7,351.6 334.7,356.1 325.6,360.6 316.5,365.1 307.5,369.8 298.4,374.5 289.3,379.3 280.3,384.2 271.2,389.1 262.1,394.2 253.1,399.2 244.0,404.4" fill="url(#g11)"/>
<polygon points="244.0,395.1 253.1,389.6 262.1,384.3 271.2,379.0 280.3,373.9 289.3,368.8 298.4,363.9 307.5,359.1 316.5,354.3 325.6,349.7 334.7,345.1 343.7,340.6 352.8,336.3 361.9,332.0 370.9,327.8 380.0,323.7 389.1,319.6 398.2,315.7 407.2,311.8 416.3,308.0 425.4,304.3 434.4,300.7 443.5,297.2 452.6,293.7 461.6,290.3 470.7,287.0 479.8,283.7 488.8,280.6 497.9,277.5 507.0,274.4 516.0,271.4 525.1,268.6 534.2,265.7 543.2,263.0 552.3,260.3 561.4,257.6 570.4,255.0 579.5,252.5 588.6,250.1 597.6,247.7 606.7,245.4 615.8,243.1 624.8,240.9 633.9,238.8 643.0,236.7 652.1,234.7 661.1,232.8 670.2,230.9 679.3,229.0 688.3,227.2 697.4,225.5 706.5,223.8 715.5,222.2 724.6,220.7 733.7,219.2 742.7,217.7 751.8,216.4 760.9,215.0 769.9,213.8 779.0,212.6 779.0,222.2 769.9,223.5 760.9,224.9 751.8,226.3 742.7,227.7 733.7,229.2 724.6,230.7 715.5,232.3 706.5,233.9 697.4,235.5 688.3,237.2 679.3,239.0 670.2,240.8 661.1,242.7 652.1,244.6 643.0,246.6 633.9,248.6 624.8,250.7 615.8,252.9 606.7,255.1 597.6,257.4 588.6,259.8 579.5,262.2 570.4,264.7 561.4,267.2 552.3,269.9 543.2,272.6 534.2,275.3 525.1,278.2 516.0,281.1 507.0,284.1 497.9,287.1 488.8,290.2 479.8,293.5 470.7,296.7 461.6,300.1 452.6,303.5 443.5,307.0 434.4,310.6 425.4,314.3 416.3,318.0 407.2,321.8 398.2,325.7 389.1,329.7 380.0,333.7 370.9,337.9 361.9,342.1 352.8,346.4 343.7,350.7 334.7,355.1 325.6,359.7 316.5,364.2 307.5,368.9 298.4,373.6 289.3,378.4 280.3,383.3 271.2,388.3 262.1,393.3 253.1,398.4 244.0,403.6" fill="url(#g10)"/>
<polygon points="244.0,395.1 253.1,389.6 262.1,384.3 271.2,379.0 280.3,373.9 289.3,368.8 298.4,363.9 307.5,359.1 316.5,354.3 325.6,349.7 334.7,345.1 343.7,340.6 352.8,336.3 361.9,332.0 370.9,327.8 380.0,323.7 389.1,319.6 398.2,315.7 407.2,311.8 416.3,308.0 425.4,304.3 434.4,300.7 443.5,297.2 452.6,293.7 461.6,290.3 470.7,287.0 479.8,283.7 488.8,280.6 497.9,277.5 507.0,274.4 516.0,271.4 525.1,268.6 534.2,265.7 543.2,263.0 552.3,260.3 561.4,257.6 570.4,255.0 579.5,252.5 588.6,250.1 597.6,247.7 606.7,245.4 615.8,243.1 624.8,240.9 633.9,238.8 643.0,236.7 652.1,234.7 661.1,232.8 670.2,230.9 679.3,229.0 688.3,227.2 697.4,225.5 706.5,223.8 715.5,222.2 724.6,220.7 733.7,219.2 742.7,217.7 751.8,216.4 760.9,215.0 769.9,213.8 779.0,212.6 779.0,221.3 769.9,222.6 760.9,224.0 751.8,225.4 742.7,226.8 733.7,228.3 724.6,229.8 715.5,231.4 706.5,233.0 697.4,234.6 688.3,236.3 679.3,238.1 670.2,239.9 661.1,241.8 652.1,243.7 643.0,245.7 633.9,247.7 624.8,249.8 615.8,252.0 606.7,254.2 597.6,256.5 588.6,258.9 579.5,261.3 570.4,263.8 561.4,266.4 552.3,269.0 543.2,271.7 534.2,274.5 525.1,277.3 516.0,280.2 507.0,283.2 497.9,286.2 488.8,289.4 479.8,292.6 470.7,295.8 461.6,299.2 452.6,302.6 443.5,306.1 434.4,309.7 425.4,313.4 416.3,317.1 407.2,320.9 398.2,324.8 389.1,328.8 380.0,332.8 370.9,337.0 361.9,341.2 352.8,345.4 343.7,349.8 334.7,354.2 325.6,358.7 316.5,363.3 307.5,368.0 298.4,372.8 289.3,377.6 280.3,382.5 271.2,387.5 262.1,392.5 253.1,397.6 244.0,402.8" fill="url(#g9)"/>
<polygon points="244.0,395.1 253.1,389.6 262.1,384.3 271.2,379.0 280.3,373.9 289.3,368.8 298.4,363.9 307.5,359.1 316.5,354.3 325.6,349.7 334.7,345.1 343.7,340.6 352.8,336.3 361.9,332.0 370.9,327.8 380.0,323.7 389.1,319.6 398.2,315.7 407.2,311.8 416.3,308.0 425.4,304.3 434.4,300.7 443.5,297.2 452.6,293.7 461.6,290.3 470.7,287.0 479.8,283.7 488.8,280.6 497.9,277.5 507.0,274.4 516.0,271.4 525.1,268.6 534.2,265.7 543.2,263.0 552.3,260.3 561.4,257.6 570.4,255.0 579.5,252.5 588.6,250.1 597.6,247.7 606.7,245.4 615.8,243.1 624.8,240.9 633.9,238.8 643.0,236.7 652.1,234.7 661.1,232.8 670.2,230.9 679.3,229.0 688.3,227.2 697.4,225.5 706.5,223.8 715.5,222.2 724.6,220.7 733.7,219.2 742.7,217.7 751.8,216.4 760.9,215.0 769.9,213.8 779.0,212.6 779.0,220.5 769.9,221.8 760.9,223.1 751.8,224.5 742.7,225.9 733.7,227.4 724.6,228.9 715.5,230.4 706.5,232.1 697.4,233.7 688.3,235.4 679.3,237.2 670.2,239.0 661.1,240.9 652.1,242.8 643.0,244.8 633.9,246.8 624.8,249.0 615.8,251.1 606.7,253.4 597.6,255.7 588.6,258.0 579.5,260.4 570.4,262.9 561.4,265.5 552.3,268.1 543.2,270.8 534.2,273.6 525.1,276.4 516.0,279.3 507.0,282.3 497.9,285.4 488.8,288.5 479.8,291.7 470.7,295.0 461.6,298.3 452.6,301.7 443.5,305.2 434.4,308.8 425.4,312.5 416.3,316.2 407.2,320.0 398.2,323.9 389.1,327.9 380.0,331.9 370.9,336.0 361.9,340.2 352.8,344.5 343.7,348.9 334.7,353.3 325.6,357.8 316.5,362.4 307.5,367.1 298.4,371.9 289.3,376.7 280.3,381.6 271.2,386.6 262.1,391.7 253.1,396.8 244.0,402.1" fill="url(#g8)"/>
<polygon points="244.0,395.1 253.1,389.6 262.1,384.3 271.2,379.0 280.3,373.9 289.3,368.8 298.4,363.9 307.5,359.1 316.5,354.3 325.6,349.7 334.7,345.1 343.7,340.6 352.8,336.3 361.9,332.0 370.9,327.8 380.0,323.7 389.1,319.6 398.2,315.7 407.2,311.8 416.3,308.0 425.4,304.3 434.4,300.7 443.5,297.2 452.6,293.7 461.6,290.3 470.7,287.0 479.8,283.7 488.8,280.6 497.9,277.5 507.0,274.4 516.0,271.4 525.1,268.6 534.2,265.7 543.2,263.0 552.3,260.3 561.4,257.6 570.4,255.0 579.5,252.5 588.6,250.1 597.6,247.7 606.7,245.4 615.8,243.1 624.8,240.9 633.9,238.8 643.0,236.7 652.1,234.7 661.1,232.8 670.2,230.9 679.3,229.0 688.3,227.2 697.4,225.5 706.5,223.8 715.5,222.2 724.6,220.7 733.7,219.2 742.7,217.7 751.8,216.4 760.9,215.0 769.9,213.8 779.0,212.6 779.0,219.6 769.9,220.9 760.9,222.2 751.8,223.6 742.7,225.0 733.7,226.5 724.6,228.0 715.5,229.5 706.5,231.1 697.4,232.8 688.3,234.5 679.3,236.3 670.2,238.1 661.1,240.0 652.1,241.9 643.0,243.9 633.9,246.0 624.8,248.1 615.8,250.2 606.7,252.5 597.6,254.8 588.6,257.1 579.5,259.6 570.4,262.1 561.4,264.6 552.3,267.2 543.2,269.9 534.2,272.7 525.1,275.5 516.0,278.5 507.0,281.4 497.9,284.5 488.8,287.6 479.8,290.8 470.7,294.1 461.6,297.4 452.6,300.8 443.5,304.3 434.4,307.9 425.4,311.6 416.3,315.3 407.2,319.1 398.2,323.0 389.1,327.0 380.0,331.0 370.9,335.1 361.9,339.3 352.8,343.6 343.7,348.0 334.7,352.4 325.6,356.9 316.5,361.5 307.5,366.2 298.4,371.0 289.3,375.8 280.3,380.8 271.2,385.8 262.1,390.9 253.1,396.0 244.0,401.3" fill="url(#g7)"/>
<polygon points="244.0,395.1 253.1,389.6 262.1,384.3 271.2,379.0 280.3,373.9 289.3,368.8 298.4,363.9 307.5,359.1 316.5,354.3 325.6,349.7 334.7,345.1 343.7,340.6 352.8,336.3 361.9,332.0 370.9,327.8 380.0,323.7 389.1,319.6 398.2,315.7 407.2,311.8 416.3,308.0 425.4,304.3 434.4,300.7 443.5,297.2 452.6,293.7 461.6,290.3 470.7,287.0 479.8,283.7 488.8,280.6 497.9,277.5 507.0,274.4 516.0,271.4 525.1,268.6 534.2,265.7 543.2,263.0 552.3,260.3 561.4,257.6 570.4,255.0 579.5,252.5 588.6,250.1 597.6,247.7 606.7,245.4 615.8,243.1 624.8,240.9 633.9,238.8 643.0,236.7 652.1,234.7 661.1,232.8 670.2,230.9 679.3,229.0 688.3,227.2 697.4,225.5 706.5,223.8 715.5,222.2 724.6,220.7 733.7,219.2 742.7,217.7 751.8,216.4 760.9,215.0 769.9,213.8 779.0,212.6 779.0,218.7 769.9,220.0 760.9,221.3 751.8,222.7 742.7,224.1 733.7,225.5 724.6,227.1 715.5,228.6 706.5,230.2 697.4,231.9 688.3,233.6 679.3,235.4 670.2,237.2 661.1,239.1 652.1,241.0 643.0,243.0 633.9,245.1 624.8,247.2 615.8,249.4 606.7,251.6 597.6,253.9 588.6,256.3 579.5,258.7 570.4,261.2 561.4,263.7 552.3,266.4 543.2,269.1 534.2,271.8 525.1,274.7 516.0,277.6 507.0,280.6 497.9,283.6 488.8,286.7 479.8,289.9 470.7,293.2 461.6,296.5 452.6,300.0 443.5,303.4 434.4,307.0 425.4,310.7 416.3,314.4 407.2,318.2 398.2,322.1 389.1,326.0 380.0,330.1 370.9,334.2 361.9,338.4 352.8,342.7 343.7,347.0 334.7,351.5 325.6,356.0 316.5,360.6 307.5,365.3 298.4,370.1 289.3,375.0 280.3,379.9 271.2,384.9 262.1,390.0 253.1,395.2 244.0,400.5" fill="url(#g6)"/>
<polygon points="244.0,395.1 253.1,389.6 262.1,384.3 271.2,379.0 280.3,373.9 289.3,368.8 298.4,363.9 307.5,359.1 316.5,354.3 325.6,349.7 334.7,345.1 343.7,340.6 352.8,336.3 361.9,332.0 370.9,327.8 380.0,323.7 389.1,319.6 398.2,315.7 407.2,311.8 416.3,308.0 425.4,304.3 434.4,300.7 443.5,297.2 452.6,293.7 461.6,290.3 470.7,287.0 479.8,283.7 488.8,280.6 497.9,277.5 507.0,274.4 516.0,271.4 525.1,268.6 534.2,265.7 543.2,263.0 552.3,260.3 561.4,257.6 570.4,255.0 579.5,252.5 588.6,250.1 597.6,247.7 606.7,245.4 615.8,243.1 624.8,240.9 633.9,238.8 643.0,236.7 652.1,234.7 661.1,232.8 670.2,230.9 679.3,229.0 688.3,227.2 697.4,225.5 706.5,223.8 715.5,222.2 724.6,220.7 733.7,219.2 742.7,217.7 751.8,216.4 760.9,215.0 769.9,213.8 779.0,212.6 779.0,217.8 769.9,219.1 760.9,220.4 751.8,221.8 742.7,223.2 733.7,224.6 724.6,226.1 715.5,227.7 706.5,229.3 697.4,231.0 688.3,232.7 679.3,234.5 670.2,236.3 661.1,238.2 652.1,240.1 643.0,242.1 633.9,244.2 624.8,246.3 615.8,248.5 606.7,250.7 597.6,253.0 588.6,255.4 579.5,257.8 570.4,260.3 561.4,262.9 552.3,265.5 543.2,268.2 534.2,271.0 525.1,273.8 516.0,276.7 507.0,279.7 497.9,282.7 488.8,285.8 479.8,289.0 470.7,292.3 461.6,295.6 452.6,299.1 443.5,302.5 434.4,306.1 425.4,309.8 416.3,313.5 407.2,317.3 398.2,321.2 389.1,325.1 380.0,329.2 370.9,333.3 361.9,337.5 352.8,341.8 343.7,346.1 334.7,350.6 325.6,355.1 316.5,359.7 307.5,364.4 298.4,369.2 289.3,374.1 280.3,379.0 271.2,384.1 262.1,389.2 253.1,394.4 244.0,399.7" fill="url(#g5)"/>
<polygon points="244.0,395.1 253.1,389.6 262.1,384.3 271.2,379.0 280.3,373.9 289.3,368.8 298.4,363.9 307.5,359.1 316.5,354.3 325.6,349.7 334.7,345.1 343.7,340.6 352.8,336.3 361.9,332.0 370.9,327.8 380.0,323.7 389.1,319.6 398.2,315.7 407.2,311.8 416.3,308.0 425.4,304.3 434.4,300.7 443.5,297.2 452.6,293.7 461.6,290.3 470.7,287.0 479.8,283.7 488.8,280.6 497.9,277.5 507.0,274.4 516.0,271.4 525.1,268.6 534.2,265.7 543.2,263.0 552.3,260.3 561.4,257.6 570.4,255.0 579.5,252.5 588.6,250.1 597.6,247.7 606.7,245.4 615.8,243.1 624.8,240.9 633.9,238.8 643.0,236.7 652.1,234.7 661.1,232.8 670.2,230.9 679.3,229.0 688.3,227.2 697.4,225.5 706.5,223.8 715.5,222.2 724.6,220.7 733.7,219.2 742.7,217.7 751.8,216.4 760.9,215.0 769.9,213.8 779.0,212.6 779.0,216.9 769.9,218.2 760.9,219.5 751.8,220.9 742.7,222.3 733.7,223.7 724.6,225.2 715.5,226.8 706.5,228.4 697.4,230.1 688.3,231.8 679.3,233.6 670.2,235.4 661.1,237.3 652.1,239.2 643.0,241.2 633.9,243.3 624.8,245.4 615.8,247.6 606.7,249.8 597.6,252.1 588.6,254.5 579.5,256.9 570.4,259.4 561.4,262.0 552.3,264.6 543.2,267.3 534.2,270.1 525.1,272.9 516.0,275.8 507.0,278.8 497.9,281.8 488.8,285.0 479.8,288.2 470.7,291.4 461.6,294.8 452.6,298.2 443.5,301.7 434.4,305.2 425.4,308.9 416.3,312.6 407.2,316.4 398.2,320.3 389.1,324.2 380.0,328.2 370.9,332.4 361.9,336.6 352.8,340.8 343.7,345.2 334.7,349.7 325.6,354.2 316.5,358.8 307.5,363.5 298.4,368.3 289.3,373.2 280.3,378.2 271.2,383.2 262.1,388.4 253.1,393.6 244.0,398.9" fill="url(#g4)"/>
<polygon points="244.0,395.1 253.1,389.6 262.1,384.3 271.2,379.0 280.3,373.9 289.3,368.8 298.4,363.9 307.5,359.1 316.5,354.3 325.6,349.7 334.7,345.1 343.7,340.6 352.8,336.3 361.9,332.0 370.9,327.8 380.0,323.7 389.1,319.6 398.2,315.7 407.2,311.8 416.3,308.0 425.4,304.3 434.4,300.7 443.5,297.2 452.6,293.7 461.6,290.3 470.7,287.0 479.8,283.7 488.8,280.6 497.9,277.5 507.0,274.4 516.0,271.4 525.1,268.6 534.2,265.7 543.2,263.0 552.3,260.3 561.4,257.6 570.4,255.0 579.5,252.5 588.6,250.1 597.6,247.7 606.7,245.4 615.8,243.1 624.8,240.9 633.9,238.8 643.0,236.7 652.1,234.7 661.1,232.8 670.2,230.9 679.3,229.0 688.3,227.2 697.4,225.5 706.5,223.8 715.5,222.2 724.6,220.7 733.7,219.2 742.7,217.7 751.8,216.4 760.9,215.0 769.9,213.8 779.0,212.6 779.0,216.1 769.9,217.3 760.9,218.6 751.8,220.0 742.7,221.4 733.7,222.8 724.6,224.3 715.5,225.9 706.5,227.5 697.4,229.2 688.3,230.9 679.3,232.6 670.2,234.5 661.1,236.4 652.1,238.3 643.0,240.3 633.9,242.4 624.8,244.5 615.8,246.7 606.7,248.9 597.6,251.2 588.6,253.6 579.5,256.1 570.4,258.6 561.4,261.1 552.3,263.7 543.2,266.4 534.2,269.2 525.1,272.0 516.0,275.0 507.0,277.9 497.9,281.0 488.8,284.1 479.8,287.3 470.7,290.5 461.6,293.9 452.6,297.3 443.5,300.8 434.4,304.3 425.4,308.0 416.3,311.7 407.2,315.5 398.2,319.3 389.1,323.3 380.0,327.3 370.9,331.4 361.9,335.6 352.8,339.9 343.7,344.3 334.7,348.8 325.6,353.3 316.5,357.9 307.5,362.6 298.4,367.4 289.3,372.3 280.3,377.3 271.2,382.4 262.1,387.6 253.1,392.8 244.0,398.2" fill="url(#g3)"/>
<polygon points="244.0,395.1 253.1,389.6 262.1,384.3 271.2,379.0 280.3,373.9 289.3,368.8 298.4,363.9 307.5,359.1 316.5,354.3 325.6,349.7 334.7,345.1 343.7,340.6 352.8,336.3 361.9,332.0 370.9,327.8 380.0,323.7 389.1,319.6 398.2,315.7 407.2,311.8 416.3,308.0 425.4,304.3 434.4,300.7 443.5,297.2 452.6,293.7 461.6,290.3 470.7,287.0 479.8,283.7 488.8,280.6 497.9,277.5 507.0,274.4 516.0,271.4 525.1,268.6 534.2,265.7 543.2,263.0 552.3,260.3 561.4,257.6 570.4,255.0 579.5,252.5 588.6,250.1 597.6,247.7 606.7,245.4 615.8,243.1 624.8,240.9 633.9,238.8 643.0,236.7 652.1,234.7 661.1,232.8 670.2,230.9 679.3,229.0 688.3,227.2 697.4,225.5 706.5,223.8 715.5,222.2 724.6,220.7 733.7,219.2 742.7,217.7 751.8,216.4 760.9,215.0 769.9,213.8 779.0,212.6 779.0,215.2 769.9,216.4 760.9,217.7 751.8,219.1 742.7,220.5 733.7,221.9 724.6,223.4 715.5,225.0 706.5,226.6 697.4,228.2 688.3,230.0 679.3,231.7 670.2,233.6 661.1,235.5 652.1,237.4 643.0,239.4 633.9,241.5 624.8,243.6 615.8,245.8 606.7,248.1 597.6,250.4 588.6,252.7 579.5,255.2 570.4,257.7 561.4,260.2 552.3,262.9 543.2,265.6 534.2,268.3 525.1,271.2 516.0,274.1 507.0,277.0 497.9,280.1 488.8,283.2 479.8,286.4 470.7,289.6 461.6,293.0 452.6,296.4 443.5,299.9 434.4,303.4 425.4,307.1 416.3,310.8 407.2,314.6 398.2,318.4 389.1,322.4 380.0,326.4 370.9,330.5 361.9,334.7 352.8,339.0 343.7,343.4 334.7,347.8 325.6,352.4 316.5,357.0 307.5,361.7 298.4,366.6 289.3,371.5 280.3,376.5 271.2,381.5 262.1,386.7 253.1,392.0 244.0,397.4" fill="url(#g2)"/>
<polygon points="244.0,395.1 253.1,389.6 262.1,384.3 271.2,379.0 280.3,373.9 289.3,368.8 298.4,363.9 307.5,359.1 316.5,354.3 325.6,349.7 334.7,345.1 343.7,340.6 352.8,336.3 361.9,332.0 370.9,327.8 380.0,323.7 389.1,319.6 398.2,315.7 407.2,311.8 416.3,308.0 425.4,304.3 434.4,300.7 443.5,297.2 452.6,293.7 461.6,290.3 470.7,287.0 479.8,283.7 488.8,280.6 497.9,277.5 507.0,274.4 516.0,271.4 525.1,268.6 534.2,265.7 543.2,263.0 552.3,260.3 561.4,257.6 570.4,255.0 579.5,252.5 588.6,250.1 597.6,247.7 606.7,245.4 615.8,243.1 624.8,240.9 633.9,238.8 643.0,236.7 652.1,234.7 661.1,232.8 670.2,230.9 679.3,229.0 688.3,227.2 697.4,225.5 706.5,223.8 715.5,222.2 724.6,220.7 733.7,219.2 742.7,217.7 751.8,216.4 760.9,215.0 769.9,213.8 779.0,212.6 779.0,214.3 769.9,215.5 760.9,216.8 751.8,218.2 742.7,219.5 733.7,221.0 724.6,222.5 715.5,224.0 706.5,225.7 697.4,227.3 688.3,229.0 679.3,230.8 670.2,232.7 661.1,234.6 652.1,236.5 643.0,238.5 633.9,240.6 624.8,242.7 615.8,244.9 606.7,247.2 597.6,249.5 588.6,251.9 579.5,254.3 570.4,256.8 561.4,259.4 552.3,262.0 543.2,264.7 534.2,267.5 525.1,270.3 516.0,273.2 507.0,276.2 497.9,279.2 488.8,282.3 479.8,285.5 470.7,288.8 461.6,292.1 452.6,295.5 443.5,299.0 434.4,302.5 425.4,306.2 416.3,309.9 407.2,313.6 398.2,317.5 389.1,321.5 380.0,325.5 370.9,329.6 361.9,333.8 352.8,338.1 343.7,342.5 334.7,346.9 325.6,351.5 316.5,356.1 307.5,360.8 298.4,365.7 289.3,370.6 280.3,375.6 271.2,380.7 262.1,385.9 253.1,391.2 244.0,396.6" fill="url(#g1)"/>
<polygon points="244.0,395.1 253.1,389.6 262.1,384.3 271.2,379.0 280.3,373.9 289.3,368.8 298.4,363.9 307.5,359.1 316.5,354.3 325.6,349.7 334.7,345.1 343.7,340.6 352.8,336.3 361.9,332.0 370.9,327.8 380.0,323.7 389.1,319.6 398.2,315.7 407.2,311.8 416.3,308.0 425.4,304.3 434.4,300.7 443.5,297.2 452.6,293.7 461.6,290.3 470.7,287.0 479.8,283.7 488.8,280.6 497.9,277.5 507.0,274.4 516.0,271.4 525.1,268.6 534.2,265.7 543.2,263.0 552.3,260.3 561.4,257.6 570.4,255.0 579.5,252.5 588.6,250.1 597.6,247.7 606.7,245.4 615.8,243.1 624.8,240.9 633.9,238.8 643.0,236.7 652.1,234.7 661.1,232.8 670.2,230.9 679.3,229.0 688.3,227.2 697.4,225.5 706.5,223.8 715.5,222.2 724.6,220.7 733.7,219.2 742.7,217.7 751.8,216.4 760.9,215.0 769.9,213.8 779.0,212.6 779.0,213.4 769.9,214.6 760.9,215.9 751.8,217.3 742.7,218.6 733.7,220.1 724.6,221.6 715.5,223.1 706.5,224.7 697.4,226.4 688.3,228.1 679.3,229.9 670.2,231.8 661.1,233.7 652.1,235.6 643.0,237.6 633.9,239.7 624.8,241.8 615.8,244.0 606.7,246.3 597.6,248.6 588.6,251.0 579.5,253.4 570.4,255.9 561.4,258.5 552.3,261.1 543.2,263.8 534.2,266.6 525.1,269.4 516.0,272.3 507.0,275.3 497.9,278.3 488.8,281.4 479.8,284.6 470.7,287.9 461.6,291.2 452.6,294.6 443.5,298.1 434.4,301.6 425.4,305.2 416.3,309.0 407.2,312.7 398.2,316.6 389.1,320.6 380.0,324.6 370.9,328.7 361.9,332.9 352.8,337.2 343.7,341.6 334.7,346.0 325.6,350.6 316.5,355.2 307.5,359.9 298.4,364.8 289.3,369.7 280.3,374.7 271.2,379.9 262.1,385.1 253.1,390.4 244.0,395.8" fill="url(#g0)"/>
<polyline points="244.0,395.4 253.1,389.9 262.1,384.6 271.2,379.3 280.3,374.2 289.3,369.1 298.4,364.2 307.5,359.4 316.5,354.6 325.6,350.0 334.7,345.4 343.7,340.9 352.8,336.6 361.9,332.3 370.9,328.1 380.0,324.0 389.1,319.9 398.2,316.0 407.2,312.1 416.3,308.3 425.4,304.6 434.4,301.0 443.5,297.5 452.6,294.0 461.6,290.6 470.7,287.3 479.8,284.0 488.8,280.9 497.9,277.8 507.0,274.7 516.0,271.7 525.1,268.9 534.2,266.0 543.2,263.3 552.3,260.6" fill="none" stroke="url(#topline)" stroke-width="1.2"/>
</g>
<polygon points="764,216.5 777,214.6 777,232 764,234" fill="url(#glare)"/>
<g id="bases">

<polygon points="215.1,405 278.75,385 279.5,426.4 218.2,450.3" fill="#989898"/>
<polygon points="218.4,406.8 275.6,388.6 276.6,424.6 221.3,446.3" fill="#818181"/>
<polygon points="218.4,406.8 228.6,403.6 229.4,432.8 221.3,446.3" fill="#727272"/>
<polygon points="229.4,432.8 272.4,419.6 276.6,424.6 221.3,446.3" fill="#9a9a9a"/>
<polygon points="271.6,389.9 275.6,388.6 276.6,424.6 272.4,419.6" fill="#585858"/>
<polygon points="236,404 268,393.6 268.6,412 237,422" fill="#8f8f8f" opacity="0.8"/>
<polyline points="221.3,446.8 276.9,425" stroke="#5c5c5c" stroke-width="1.1" fill="none"/>
<polyline points="219,407 221.8,446.3" stroke="#666" stroke-width="0.9" fill="none"/>
<polyline points="228.2,404 229.2,432.6" stroke="#606060" stroke-width="0.9" fill="none"/>
<polygon points="276.4,385.8 278.75,385 279.5,426.4 277.3,427.2" fill="#b4b4b4"/>
<polygon points="215.1,405 278.75,385 278.8,387.1 215.3,407.2" fill="#ececec"/>
<polyline points="215.6,404.4 259,390.7 278.6,384.4" stroke="#585858" stroke-width="1.1" fill="none"/>
<polygon points="252.6,407.7 258.4,402.2 264.7,408.1 258.8,413.5" fill="#3e3e3e"/>
<circle cx="261.3" cy="412.6" r="3.1" fill="#2a2a2a" stroke="#dcdcdc" stroke-width="1.5"/>


<polygon points="776.9,215.6 784.5,213.6 784.5,259.5 782.9,259.5 777,248.6" fill="#7e7e7e"/>
<polygon points="777,227 784.5,225 784.5,238 777,240" fill="#4e4e4e"/>
<polygon points="784.5,215 839.1,199 836.8,241.6 784.5,259.5" fill="#9c9c9c"/>
<polygon points="786.8,217.6 836.4,202.6 834.5,239.4 786.8,255.6" fill="#8b8b8b"/>
<polygon points="819.5,207.8 836.4,202.6 834.5,239.4 818.6,244.8" fill="#ababab"/>
<polygon points="832.4,203.8 836.4,202.6 834.5,239.4 831,237.4" fill="#9a9a9a"/>
<polyline points="819.6,207.8 818.7,241" stroke="#747474" stroke-width="1" fill="none"/>
<polygon points="786.8,247.6 831,237.4 834.5,239.4 786.8,255.6" fill="#a6a6a6"/>
<polyline points="786.6,256.4 834.8,240.2" stroke="#666" stroke-width="1" fill="none"/>
<polygon points="784.5,215 839.1,199 839,200.8 784.5,216.9" fill="#e8e8e8"/>
<polyline points="777.5,214.9 784,213.6 838.6,198.4" stroke="#5a5a5a" stroke-width="1.1" fill="none"/>
<polygon points="836.6,199.8 839.1,199 836.8,241.6 834.6,242.4" fill="#8c8c8c"/>
<polygon points="789.9,229 795,224 801.6,230.6 796.2,236.1" fill="#3c3c3c"/>
<circle cx="798.9" cy="234.4" r="3.3" fill="#2a2a2a" stroke="#d4d4d4" stroke-width="1.5"/>

</g>
<g id="dims" stroke="#000" fill="none" stroke-linecap="butt">
<polyline points="242.3,337.7 228.9,332.5 236.3,320.3" stroke-width="3.4" stroke-miterlimit="10"/><line x1="228.9" y1="332.5" x2="826.8" y2="126.6" stroke-width="3.6"/><polyline points="813.4,121.4 826.8,126.6 819.4,138.8" stroke-width="3.4" stroke-miterlimit="10"/>
<line x1="216.7" y1="311" x2="216.7" y2="393.6" stroke-width="3.6"/>
<line x1="218.5" y1="459.4" x2="218.5" y2="504" stroke-width="3.6"/>
<line x1="838.9" y1="99.4" x2="838.9" y2="189.2" stroke-width="3.6"/>
<polyline points="321.3,446.8 308.0,441.5 315.5,429.3" stroke-width="3.4" stroke-miterlimit="10"/><line x1="308.0" y1="441.5" x2="819.4" y2="272.7" stroke-width="3.6"/><polyline points="806.1,267.4 819.4,272.7 811.9,284.9" stroke-width="3.4" stroke-miterlimit="10"/>
<line x1="318.4" y1="203.3" x2="477.2" y2="273.3" stroke-width="3.6"/>
<line x1="319.3" y1="244.3" x2="473.4" y2="311.9" stroke-width="3.6"/>
<line x1="339.6" y1="181.2" x2="339.6" y2="199.1" stroke-width="3.6"/><polyline points="348.8,188.1 339.6,199.1 330.4,188.1" stroke-width="3.4" stroke-miterlimit="10"/>
<line x1="339.6" y1="285" x2="339.6" y2="266.3" stroke-width="3.6"/><polyline points="330.4,277.3 339.6,266.3 348.8,277.3" stroke-width="3.4" stroke-miterlimit="10"/>
<line x1="158.4" y1="419.2" x2="207.6" y2="407" stroke-width="3.6"/>
<line x1="162.2" y1="463.3" x2="210.2" y2="450.8" stroke-width="3.6"/>
<line x1="180.6" y1="379.1" x2="180.6" y2="397.9" stroke-width="3.6"/><polyline points="189.8,386.9 180.6,397.9 171.4,386.9" stroke-width="3.4" stroke-miterlimit="10"/>
<line x1="180.6" y1="484.8" x2="180.6" y2="466.8" stroke-width="3.6"/><polyline points="171.4,477.8 180.6,466.8 189.8,477.8" stroke-width="3.4" stroke-miterlimit="10"/>
<polyline points="244.0,493.0 230.7,487.8 238.2,475.6" stroke-width="3.4" stroke-miterlimit="10"/><line x1="230.7" y1="487.8" x2="268.1" y2="475.3" stroke-width="3.6"/><polyline points="254.8,470.1 268.1,475.3 260.6,487.5" stroke-width="3.4" stroke-miterlimit="10"/>
<line x1="280.1" y1="438.2" x2="280.1" y2="483.6" stroke-width="3.6"/>
<line x1="700.3" y1="215.6" x2="940.4" y2="137.1" stroke-width="3.6"/>
<line x1="849.8" y1="194.5" x2="973.2" y2="155" stroke-width="3.6"/>
<line x1="882" y1="125.7" x2="896.9" y2="137.0" stroke-width="3.6"/><polyline points="893.7,123.1 896.9,137.0 882.6,137.7" stroke-width="3.4" stroke-miterlimit="10"/>
<line x1="968" y1="184.6" x2="954.2" y2="174.2" stroke-width="3.6"/><polyline points="957.4,188.1 954.2,174.2 968.5,173.5" stroke-width="3.4" stroke-miterlimit="10"/>
<line x1="261.3" y1="412.6" x2="310.8" y2="461.8" stroke-width="3.6"/>
<line x1="798.9" y1="234.4" x2="849.6" y2="284.4" stroke-width="3.6"/>
</g>
<g id="labels">
<text transform="translate(129.06,652.5) scale(0.9808,1)" font-weight="bold" font-size="50">L</text>
<text transform="translate(173.50,652.5) scale(1.1681,1)" font-weight="normal" font-size="50">(Length)</text>
<text transform="translate(407.79,652.5) scale(0.9800,1)" font-weight="bold" font-size="50">=</text>
<text transform="translate(452.40,652.5) scale(1.1727,1)" font-weight="bold" font-size="50">20-3/4in</text>
<text transform="translate(667.82,652.5) scale(1.1430,1)" font-weight="normal" font-size="50">(527mm)</text>
<text transform="translate(220.50,716.5) scale(1.0798,1)" font-weight="bold" font-size="50">W</text>
<text transform="translate(287.58,716.5) scale(1.2242,1)" font-weight="normal" font-size="50">(Width)</text>
<text transform="translate(499.00,716.5) scale(1.0000,1)" font-weight="bold" font-size="50">=</text>
<text transform="translate(542.22,716.5) scale(0.9280,1)" font-weight="bold" font-size="50">1in</text>
<text transform="translate(607.74,716.5) scale(1.1702,1)" font-weight="normal" font-size="50">(25mm)</text>
<text transform="translate(115.91,780.5) scale(0.9483,1)" font-weight="bold" font-size="50">P</text>
<text transform="translate(163.28,780.5) scale(1.1570,1)" font-weight="normal" font-size="50">(Projection)</text>
<text transform="translate(474.54,780.5) scale(0.9800,1)" font-weight="bold" font-size="50">=</text>
<text transform="translate(518.93,780.5) scale(1.0373,1)" font-weight="bold" font-size="50">2-1/16in</text>
<text transform="translate(710.26,780.5) scale(1.1627,1)" font-weight="normal" font-size="50">(52mm)</text>
<text transform="translate(61.83,844.5) scale(0.9621,1)" font-weight="bold" font-size="50">C</text>
<text transform="translate(0,844.5) scale(1.0897,1)" font-weight="normal" font-size="50"><tspan x="102.47">(Center</tspan><tspan x="272.53">-</tspan><tspan x="292.65">to</tspan><tspan x="338.14">-</tspan><tspan x="360.34">Center)</tspan></text>
<text transform="translate(593.00,844.5) scale(1.0000,1)" font-weight="bold" font-size="50">=</text>
<text transform="translate(637.09,844.5) scale(0.9707,1)" font-weight="bold" font-size="50">18in</text>
<text transform="translate(734.03,844.5) scale(1.1559,1)" font-weight="normal" font-size="50">(457mm)</text>
<text transform="translate(58.75,908.5) scale(0.9839,1)" font-weight="bold" font-size="50">BL</text>
<text transform="translate(139.29,908.5) scale(1.0700,1)" font-weight="normal" font-size="50">(Base</text>
<text transform="translate(295.37,908.5) scale(1.1564,1)" font-weight="normal" font-size="50">Length)</text>
<text transform="translate(506.50,908.5) scale(1.0000,1)" font-weight="bold" font-size="50">=</text>
<text transform="translate(550.76,908.5) scale(0.9976,1)" font-weight="bold" font-size="50">1-15/16in</text>
<text transform="translate(762.42,908.5) scale(1.1934,1)" font-weight="normal" font-size="50">(49mm)</text>
<text transform="translate(64.85,972.5) scale(1.0488,1)" font-weight="bold" font-size="50">BW</text>
<text transform="translate(169.96,972.5) scale(1.0784,1)" font-weight="normal" font-size="50">(Base</text>
<text transform="translate(327.50,972.5) scale(1.1915,1)" font-weight="normal" font-size="50">Width)</text>
<text transform="translate(514.04,972.5) scale(0.9800,1)" font-weight="bold" font-size="50">=</text>
<text transform="translate(556.81,972.5) scale(1.0625,1)" font-weight="bold" font-size="50">1-9/16in</text>
<text transform="translate(752.60,972.5) scale(1.2160,1)" font-weight="normal" font-size="50">(40mm)</text>
<text transform="translate(492.05,204.8) scale(0.9367,1)" font-weight="bold" font-size="58">L</text>
<text transform="translate(237.30,238.6) scale(1.0691,1)" font-weight="bold" font-size="58">W</text>
<text transform="translate(956.19,135) scale(0.9515,1)" font-weight="bold" font-size="58">P</text>
<text transform="translate(558.25,418.6) scale(0.9737,1)" font-weight="bold" font-size="58">C</text>
<text transform="translate(223.73,546.2) scale(0.9667,1)" font-weight="bold" font-size="58">BL</text>
<text transform="translate(37.25,461.8) scale(1.0366,1)" font-weight="bold" font-size="58">BW</text>
</g>
</svg>
</body></html>
